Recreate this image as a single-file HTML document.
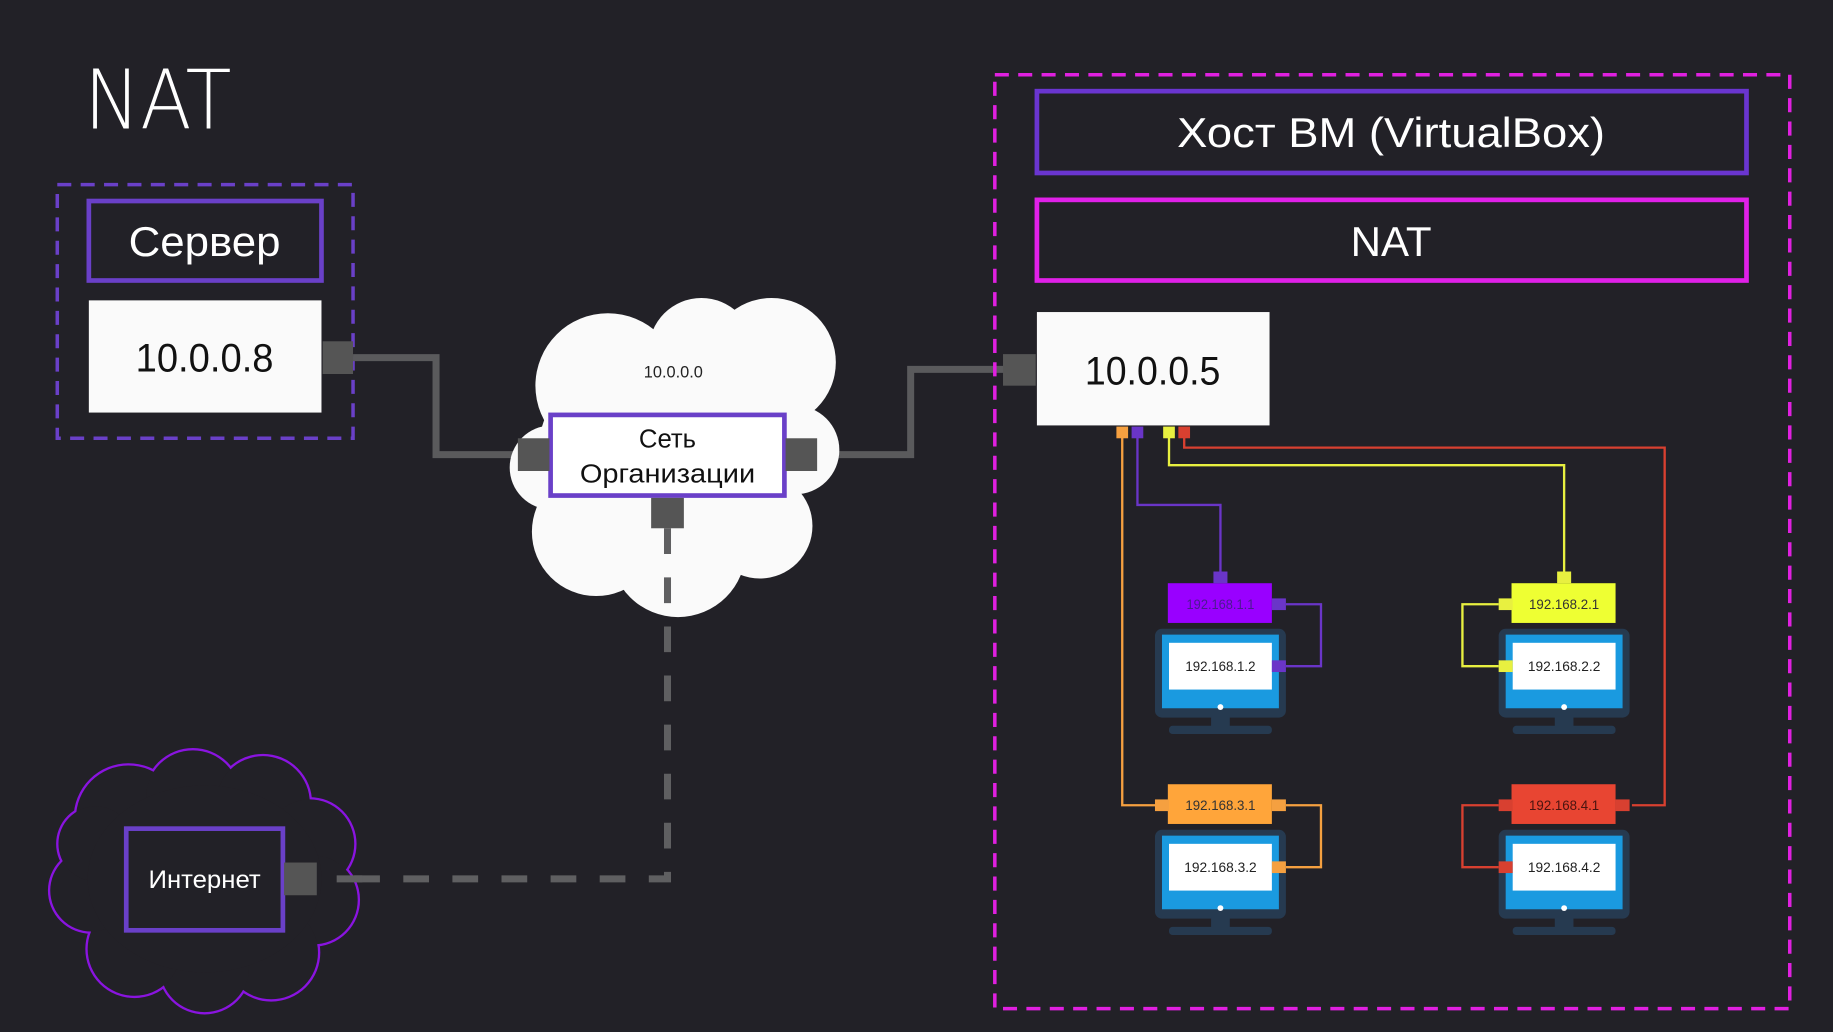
<!DOCTYPE html>
<html><head><meta charset="utf-8"><style>
html,body{margin:0;padding:0;background:#222127;width:1833px;height:1032px;overflow:hidden}
svg{display:block}
text{font-family:"Liberation Sans","DejaVu Sans",sans-serif}
</style></head><body>
<svg width="1833" height="1032" viewBox="0 0 1568 883" preserveAspectRatio="none" xmlns="http://www.w3.org/2000/svg">
<rect width="1568" height="883" fill="#222127"/>
<text x="72" y="110" font-size="70" fill="#fff" style="font-family:'DejaVu Sans','Liberation Sans',sans-serif;font-weight:200" textLength="126" lengthAdjust="spacingAndGlyphs">NAT</text>

<!-- server -->
<rect x="49" y="158" width="253" height="217" fill="none" stroke="#6a40c8" stroke-width="3" stroke-dasharray="12 8"/>
<rect x="76" y="172" width="199" height="68" fill="none" stroke="#6a40c8" stroke-width="4"/>
<text x="175" y="219" font-size="36" fill="#fff" text-anchor="middle" textLength="130" lengthAdjust="spacingAndGlyphs">Сервер</text>
<rect x="76" y="257" width="199" height="96" fill="#fafafa"/>
<text x="175" y="318" font-size="34" fill="#111" text-anchor="middle" textLength="118" lengthAdjust="spacingAndGlyphs">10.0.0.8</text>

<polyline points="302,306 373,306 373,389 445,389" fill="none" stroke="#5a5a5c" stroke-width="6"/>
<polyline points="699,389 779,389 779,316 860,316" fill="none" stroke="#5a5a5c" stroke-width="6"/>

<!-- white cloud -->
<g fill="#fafafa">
<circle cx="520" cy="330" r="62"/><circle cx="600" cy="300" r="45"/><circle cx="660" cy="310" r="55"/>
<circle cx="680" cy="385" r="38"/><circle cx="650" cy="450" r="45"/><circle cx="580" cy="470" r="58"/>
<circle cx="510" cy="455" r="55"/><circle cx="472" cy="400" r="36"/><ellipse cx="575" cy="390" rx="115" ry="100"/>
</g>
<text x="576" y="323" font-size="14" fill="#222" text-anchor="middle">10.0.0.0</text>
<rect x="471" y="355" width="200" height="69" fill="#fff" stroke="#6a40c8" stroke-width="4"/>
<text x="571" y="383" font-size="22" fill="#111" text-anchor="middle">Сеть</text>
<text x="571" y="413" font-size="22" fill="#111" text-anchor="middle" textLength="150" lengthAdjust="spacingAndGlyphs">Организации</text>
<rect x="443" y="375" width="27" height="28" fill="#555"/>
<rect x="672" y="375" width="27" height="28" fill="#555"/>
<rect x="557" y="426" width="28" height="26" fill="#555"/>
<rect x="276" y="292" width="26" height="28" fill="#555"/>
<rect x="858" y="303" width="28" height="27" fill="#555"/>

<polyline points="571,452 571,752 272,752" fill="none" stroke="#5f5f61" stroke-width="6" stroke-dasharray="22 20"/>

<!-- purple cloud -->
<g fill="none" stroke="#8a14e0" stroke-width="4">
<circle cx="110" cy="700" r="45"/><circle cx="165" cy="682" r="40"/><circle cx="225" cy="687" r="40"/>
<circle cx="265" cy="722" r="38"/><circle cx="268" cy="770" r="38"/><circle cx="232" cy="815" r="40"/>
<circle cx="175" cy="828" r="38"/><circle cx="115" cy="812" r="40"/><circle cx="78" cy="762" r="35"/><circle cx="82" cy="722" r="32"/>
</g>
<g fill="#222127">
<circle cx="110" cy="700" r="45"/><circle cx="165" cy="682" r="40"/><circle cx="225" cy="687" r="40"/>
<circle cx="265" cy="722" r="38"/><circle cx="268" cy="770" r="38"/><circle cx="232" cy="815" r="40"/>
<circle cx="175" cy="828" r="38"/><circle cx="115" cy="812" r="40"/><circle cx="78" cy="762" r="35"/><circle cx="82" cy="722" r="32"/>
<ellipse cx="175" cy="752" rx="100" ry="80"/>
</g>
<line x1="272" y1="752" x2="320" y2="752" stroke="#5f5f61" stroke-width="6" stroke-dasharray="0 16 22 20"/>
<rect x="108" y="709" width="134" height="87" fill="none" stroke="#6a40c8" stroke-width="4"/>
<text x="175" y="760" font-size="21" fill="#fff" text-anchor="middle" textLength="96" lengthAdjust="spacingAndGlyphs">Интернет</text>
<rect x="243" y="738" width="28" height="28" fill="#555"/>

<!-- host -->
<rect x="851" y="64" width="680" height="799" fill="none" stroke="#e020e0" stroke-width="3" stroke-dasharray="12 8"/>
<rect x="887" y="78" width="607" height="70" fill="none" stroke="#6a35d0" stroke-width="4"/>
<text x="1190" y="126" font-size="36" fill="#fff" text-anchor="middle" textLength="366" lengthAdjust="spacingAndGlyphs">Хост ВМ (VirtualBox)</text>
<rect x="887" y="171" width="607" height="69" fill="none" stroke="#e020e8" stroke-width="4"/>
<text x="1190" y="219" font-size="36" fill="#fff" text-anchor="middle">NAT</text>
<rect x="887" y="267" width="199" height="97" fill="#fafafa"/>
<text x="986" y="329" font-size="34" fill="#111" text-anchor="middle" textLength="116" lengthAdjust="spacingAndGlyphs">10.0.0.5</text>

<g fill="none" stroke-width="2">
<polyline points="960,370 960,689 990,689" stroke="#f5a040"/>
<polyline points="973,370 973,432 1044,432 1044,492" stroke="#6a35c8"/>
<polyline points="1000,370 1000,398 1338,398 1338,492" stroke="#e8f040"/>
<polyline points="1013,370 1013,383 1424,383 1424,689 1396,689" stroke="#d84030"/>
<polyline points="1100,517 1130,517 1130,570 1100,570" stroke="#6a35c8"/>
<polyline points="1282,517 1251,517 1251,570 1282,570" stroke="#e8f040"/>
<polyline points="1100,689 1130,689 1130,742 1100,742" stroke="#f5a040"/>
<polyline points="1282,689 1251,689 1251,742 1282,742" stroke="#d84030"/>
</g>
<rect x="955" y="365" width="10" height="10" fill="#f5a040"/>
<rect x="968" y="365" width="10" height="10" fill="#6a35c8"/>
<rect x="995" y="365" width="10" height="10" fill="#e8f040"/>
<rect x="1008" y="365" width="10" height="10" fill="#d84030"/>

<defs>
<g id="mon">
<rect x="-56" y="0" width="112" height="76" rx="6" fill="#263a50"/>
<rect x="-50" y="5" width="100" height="63" fill="#1a9ae0"/>
<rect x="-44" y="12" width="88" height="40" fill="#fff"/>
<circle cx="0" cy="67" r="2.5" fill="#fff"/>
<rect x="-8" y="75" width="16" height="9" fill="#263a50"/>
<rect x="-44" y="83" width="88" height="7" rx="3" fill="#263a50"/>
</g>
</defs>
<use href="#mon" x="1044" y="538"/>
<rect x="999" y="499" width="89" height="34" fill="#9900ff"/>
<rect x="1038" y="489" width="12" height="10" fill="#6a35c8"/>
<rect x="1088" y="512" width="12" height="10" fill="#6a35c8"/>
<rect x="1088" y="565" width="12" height="10" fill="#6a35c8"/>
<text x="1044" y="521" font-size="12" fill="#4a1a90" text-anchor="middle" textLength="58" lengthAdjust="spacingAndGlyphs">192.168.1.1</text>
<text x="1044" y="574" font-size="12" fill="#222" text-anchor="middle" textLength="60" lengthAdjust="spacingAndGlyphs">192.168.1.2</text>

<use href="#mon" x="1338" y="538"/>
<rect x="1293" y="499" width="89" height="34" fill="#eeff33"/>
<rect x="1332" y="489" width="12" height="10" fill="#e8f040"/>
<rect x="1282" y="512" width="12" height="10" fill="#e8f040"/>
<rect x="1282" y="565" width="12" height="10" fill="#e8f040"/>
<text x="1338" y="521" font-size="12" fill="#333" text-anchor="middle" textLength="60" lengthAdjust="spacingAndGlyphs">192.168.2.1</text>
<text x="1338" y="574" font-size="12" fill="#222" text-anchor="middle" textLength="62" lengthAdjust="spacingAndGlyphs">192.168.2.2</text>

<use href="#mon" x="1044" y="710"/>
<rect x="999" y="671" width="89" height="34" fill="#ffa53a"/>
<rect x="988" y="684" width="12" height="10" fill="#f5a040"/>
<rect x="1088" y="684" width="12" height="10" fill="#f5a040"/>
<rect x="1088" y="737" width="12" height="10" fill="#f5a040"/>
<text x="1044" y="693" font-size="12" fill="#333" text-anchor="middle" textLength="60" lengthAdjust="spacingAndGlyphs">192.168.3.1</text>
<text x="1044" y="746" font-size="12" fill="#222" text-anchor="middle" textLength="62" lengthAdjust="spacingAndGlyphs">192.168.3.2</text>

<use href="#mon" x="1338" y="710"/>
<rect x="1293" y="671" width="89" height="34" fill="#e84532"/>
<rect x="1282" y="684" width="12" height="10" fill="#d84030"/>
<rect x="1382" y="684" width="12" height="10" fill="#d84030"/>
<rect x="1282" y="737" width="12" height="10" fill="#d84030"/>
<text x="1338" y="693" font-size="12" fill="#4a1410" text-anchor="middle" textLength="60" lengthAdjust="spacingAndGlyphs">192.168.4.1</text>
<text x="1338" y="746" font-size="12" fill="#222" text-anchor="middle" textLength="62" lengthAdjust="spacingAndGlyphs">192.168.4.2</text>
</svg>
</body></html>
